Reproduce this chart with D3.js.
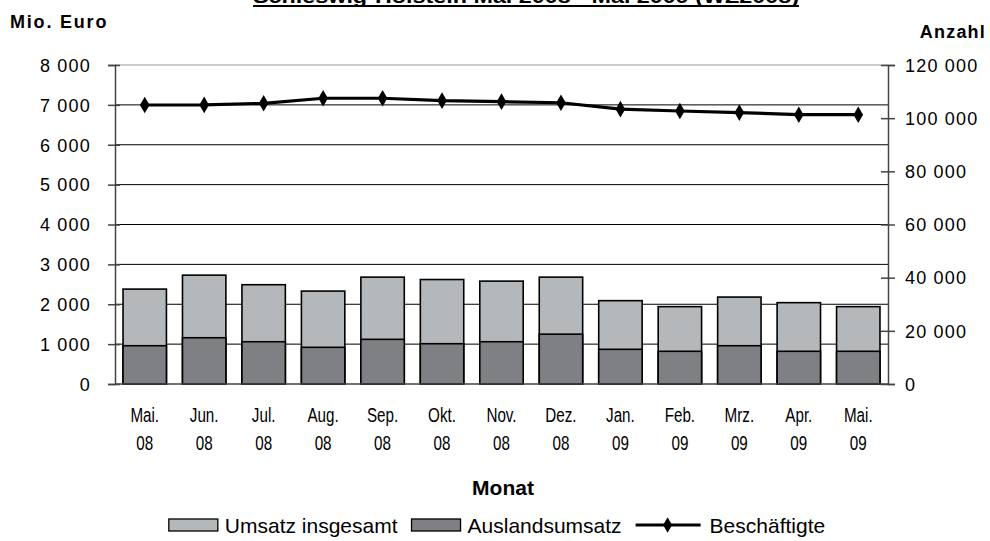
<!DOCTYPE html>
<html>
<head>
<meta charset="utf-8">
<script src="https://cdn.jsdelivr.net/npm/d3@7"></script>
<style>
  body { margin: 0; background: #fff; }
  text { font-family: "Liberation Sans", Arial, sans-serif; fill: #000; }
</style>
</head>
<body>
<svg id="chart" width="990" height="541"></svg>
<script>
const width = 990, height = 541;

const monate = ["Mai.|08", "Jun.|08", "Jul.|08", "Aug.|08", "Sep.|08", "Okt.|08", "Nov.|08",
                "Dez.|08", "Jan.|09", "Feb.|09", "Mrz.|09", "Apr.|09", "Mai.|09"];
const umsatz = [2380, 2730, 2490, 2330, 2680, 2620, 2580, 2680, 2090, 1940, 2180, 2040, 1940];
const ausland = [960, 1160, 1060, 920, 1120, 1010, 1060, 1250, 870, 820, 960, 820, 820];
const beschaeftigte = [104950, 105000, 105600, 107500, 107500, 106600, 106200, 105800,
                       103400, 102700, 102100, 101300, 101300];
const linksTicks = [0, 1000, 2000, 3000, 4000, 5000, 6000, 7000, 8000];
const rechtsTicks = [0, 20000, 40000, 60000, 80000, 100000, 120000];
const legende = ["Umsatz insgesamt", "Auslandsumsatz", "Beschäftigte"];

const m = { left: 115, right: 888, top: 65, bottom: 384 };
const fmt = v => d3.format(",")(v).replace(/,/g, " ");
const schmal = 0.78;   // Monatsbeschriftung wirkt horizontal gestaucht

const svg = d3.select("#chart");

const x = d3.scaleBand().domain(monate).range([m.left, m.right]).paddingInner(0.27).paddingOuter(0.135);
const yL = d3.scaleLinear().domain([0, 8000]).range([m.bottom, m.top]);
const yR = d3.scaleLinear().domain([0, 120000]).range([m.bottom, m.top]);

// Gitterlinien
svg.append("g").selectAll("line")
  .data(linksTicks.slice(1))
  .join("line")
  .attr("x1", m.left).attr("x2", m.right)
  .attr("y1", d => yL(d)).attr("y2", d => yL(d))
  .attr("stroke", (d, i, a) => i === a.length - 1 ? "#999" : "#000")
  .attr("stroke-width", 1);

// Balken
svg.append("g").selectAll("rect")
  .data(umsatz)
  .join("rect")
  .attr("x", (d, i) => x(monate[i]))
  .attr("width", x.bandwidth())
  .attr("y", d => yL(d))
  .attr("height", d => yL(0) - yL(d))
  .attr("fill", "#b5b8bb").attr("stroke", "#000").attr("stroke-width", 1.6);

svg.append("g").selectAll("rect")
  .data(ausland)
  .join("rect")
  .attr("x", (d, i) => x(monate[i]))
  .attr("width", x.bandwidth())
  .attr("y", d => yL(d))
  .attr("height", d => yL(0) - yL(d))
  .attr("fill", "#7f8084").attr("stroke", "#000").attr("stroke-width", 1.6);

// Achsen
const axL = svg.append("g").attr("transform", `translate(${m.left},0)`)
  .call(d3.axisLeft(yL).tickValues(linksTicks).tickSize(7).tickPadding(17).tickFormat(fmt));
const axR = svg.append("g").attr("transform", `translate(${m.right},0)`)
  .call(d3.axisRight(yR).tickValues(rechtsTicks).tickSize(7).tickPadding(26).tickFormat(fmt));
[axL, axR].forEach(a => {
  a.select(".domain").attr("stroke", "#444").attr("stroke-width", 1.5);
  a.selectAll(".tick line").attr("stroke", "#444").attr("stroke-width", 1.5);
  a.selectAll("text").attr("font-size", 18).attr("letter-spacing", 1.2)
    .attr("font-family", "Liberation Sans, Arial, sans-serif");
});
axL.selectAll(".tick text").attr("dy", "0.35em");
axR.selectAll(".tick text").attr("dy", "0.35em").attr("x", 17);
axL.selectAll(".tick line").attr("x2", -7).attr("x1", 5);
axR.selectAll(".tick line").attr("x1", -7).attr("x2", 7);

svg.append("line").attr("x1", m.left).attr("x2", m.right)
  .attr("y1", m.bottom).attr("y2", m.bottom).attr("stroke", "#444").attr("stroke-width", 1.5);

// Linie Beschäftigte
const cx = i => x(monate[i]) + x.bandwidth() / 2;
svg.append("path")
  .datum(beschaeftigte)
  .attr("d", d3.line().x((d, i) => cx(i)).y(d => yR(d)))
  .attr("fill", "none").attr("stroke", "#000").attr("stroke-width", 3.2);
svg.append("g").selectAll("path")
  .data(beschaeftigte)
  .join("path")
  .attr("transform", (d, i) => `translate(${cx(i)},${yR(d)})`)
  .attr("d", d3.symbol(d3.symbolDiamond, 80))
  .attr("fill", "#000");

// Monatsbeschriftung
const xl = svg.append("g").attr("font-size", 19.5).attr("text-anchor", "middle");
monate.forEach(mo => {
  const [a, b] = mo.split("|");
  const c = x(mo) + x.bandwidth() / 2;
  xl.append("text").attr("transform", `translate(${c},422) scale(${schmal},1)`).text(a);
  xl.append("text").attr("transform", `translate(${c},450) scale(${schmal},1)`).text(b);
});

// Titel und Achsentitel
svg.append("text").attr("x", 526).attr("y", 3).attr("text-anchor", "middle")
  .attr("font-size", 18).attr("font-weight", "bold")
  .attr("textLength", 546).attr("lengthAdjust", "spacingAndGlyphs")
  .text("Schleswig-Holstein Mai 2008 - Mai 2009 (WZ2008)");
svg.append("line").attr("x1", 253).attr("x2", 799).attr("y1", 6).attr("y2", 6)
  .attr("stroke", "#000").attr("stroke-width", 2);

svg.append("text").attr("x", 10).attr("y", 28).attr("font-size", 18).attr("font-weight", "bold")
  .attr("letter-spacing", 1.8).text("Mio. Euro");
svg.append("text").attr("x", 986).attr("y", 38).attr("text-anchor", "end")
  .attr("font-size", 18).attr("font-weight", "bold").attr("letter-spacing", 1.2).text("Anzahl");
svg.append("text").attr("x", 503).attr("y", 495).attr("text-anchor", "middle")
  .attr("font-size", 21).attr("font-weight", "bold").text("Monat");

// Legende, zentriert unter dem Diagramm
const lg = svg.append("g");
const ly = 525;
const eintraege = legende.map((name, i) => {
  const g = lg.append("g");
  if (i < 2) {
    g.append("rect").attr("x", 0).attr("y", ly - 6).attr("width", 49).attr("height", 12)
      .attr("fill", i === 0 ? "#b5b8bb" : "#7f8084").attr("stroke", "#000").attr("stroke-width", 1.3);
  } else {
    g.append("line").attr("x1", 0).attr("x2", 65).attr("y1", ly).attr("y2", ly)
      .attr("stroke", "#000").attr("stroke-width", 3);
    g.append("path").attr("transform", `translate(32,${ly})`)
      .attr("d", d3.symbol(d3.symbolDiamond, 70)).attr("fill", "#000");
  }
  const tx = i < 2 ? 56 : 74;
  const t = g.append("text").attr("x", tx).attr("y", ly + 7.5).attr("font-size", 21).text(name);
  return { g, w: tx + t.node().getComputedTextLength() };
});
const gap = 14;
const total = d3.sum(eintraege, e => e.w) + gap * (eintraege.length - 1);
let lx = 497 - total / 2;
eintraege.forEach(e => {
  e.g.attr("transform", `translate(${lx},0)`);
  lx += e.w + gap;
});
</script>
</body>
</html>
